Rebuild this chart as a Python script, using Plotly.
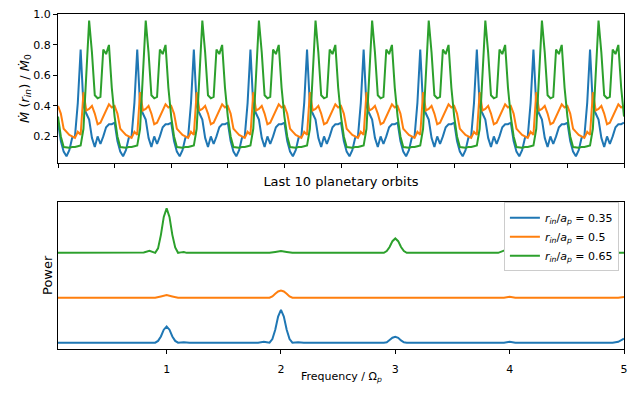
import plotly.graph_objects as go
from plotly.subplots import make_subplots

# ---------------- data ----------------
# one planetary orbit sampled at 20 phases (values read from the picture)
orbit_phase_steps = 20
n_orbits = 10
mdot_035 = [0.29, 0.17, 0.10, 0.07, 0.11, 0.19, 0.20, 0.42, 0.77, 0.40,
            0.35, 0.31, 0.19, 0.13, 0.20, 0.15, 0.20, 0.26, 0.28, 0.28]
mdot_05 = [0.40, 0.35, 0.25, 0.23, 0.21, 0.20, 0.19, 0.23, 0.21, 0.49,
           0.37, 0.38, 0.40, 0.35, 0.28, 0.29, 0.33, 0.38, 0.41, 0.39]
mdot_065 = [0.33, 0.20, 0.13, 0.125, 0.125, 0.13, 0.13, 0.135, 0.14, 0.25,
            0.60, 0.96, 0.75, 0.47, 0.45, 0.46, 0.77, 0.74, 0.80, 0.52]

# power spectra (arbitrary units, each curve relative to its own baseline)
freq_035 = [0.05, 0.9, 0.925, 0.95, 0.975, 1.0, 1.025, 1.05, 1.075, 1.1, 1.15, 1.2,
            1.8, 1.85, 1.875, 1.9, 1.925, 1.95, 1.975, 2.0, 2.025, 2.05, 2.075, 2.1, 2.15, 2.2,
            2.9, 2.925, 2.95, 2.975, 3.0, 3.025, 3.05, 3.075, 3.1,
            3.95, 4.0, 4.05, 4.9, 4.95, 5.0]
power_035 = [0.0, 0.0, 0.04, 0.14, 0.29, 0.36, 0.29, 0.14, 0.04, 0.0, 0.01, 0.0,
             0.0, 0.02, 0.01, 0.0, 0.08, 0.29, 0.58, 0.73, 0.58, 0.29, 0.08, 0.0, 0.01, 0.0,
             0.0, 0.01, 0.06, 0.11, 0.13, 0.11, 0.05, 0.01, 0.0,
             0.0, 0.02, 0.0, 0.0, 0.02, 0.09]

freq_05 = [0.05, 0.9, 0.95, 1.0, 1.05, 1.1,
           1.9, 1.925, 1.95, 1.975, 2.0, 2.025, 2.05, 2.075, 2.1,
           3.95, 4.0, 4.05, 4.95, 5.0]
power_05 = [0.0, 0.0, 0.03, 0.06, 0.03, 0.0,
            0.0, 0.03, 0.09, 0.14, 0.16, 0.14, 0.09, 0.03, 0.0,
            0.0, 0.02, 0.0, 0.0, 0.02]

freq_065 = [0.05, 0.75, 0.8, 0.85, 0.875, 0.9, 0.925, 0.95, 0.975, 1.0, 1.025, 1.05, 1.075, 1.1,
            1.125, 1.15, 1.175, 1.9, 1.95, 2.0, 2.05, 2.1,
            2.9, 2.925, 2.95, 2.975, 3.0, 3.025, 3.05, 3.075, 3.1,
            3.9, 3.95, 4.0, 4.05, 4.1, 5.0]
power_065 = [0.0, 0.0, 0.01, 0.045, 0.02, 0.0, 0.10, 0.40, 0.80, 0.99, 0.80, 0.40, 0.12, 0.0,
             0.01, 0.02, 0.0, 0.0, 0.02, 0.04, 0.02, 0.0,
             0.0, 0.04, 0.13, 0.26, 0.32, 0.26, 0.13, 0.04, 0.0,
             0.0, 0.05, 0.10, 0.05, 0.0, 0.0]

labels = ["<i>r</i><sub><i>in</i></sub>/<i>a</i><sub><i>p</i></sub> = 0.35",
          "<i>r</i><sub><i>in</i></sub>/<i>a</i><sub><i>p</i></sub> = 0.5",
          "<i>r</i><sub><i>in</i></sub>/<i>a</i><sub><i>p</i></sub> = 0.65"]
orbit_ticks = list(range(0, 11))
freq_ticks = [1, 2, 3, 4, 5]
mdot_ticks = [0.2, 0.4, 0.6, 0.8, 1.0]
mdot_ticktext = ["0.2", "0.4", "0.6", "0.8", "1.0"]

colors = ["#1f77b4", "#ff7f0e", "#2ca02c"]

# ---------------- build series ----------------
time = [i / orbit_phase_steps for i in range(n_orbits * orbit_phase_steps + 1)]


def tile(one_orbit):
    return one_orbit * n_orbits + [one_orbit[0]]


fig = make_subplots(rows=2, cols=1)
for vals, c in zip([mdot_035, mdot_05, mdot_065], colors):
    fig.add_trace(go.Scatter(x=time, y=tile(vals), mode="lines",
                             line=dict(color=c, width=2), showlegend=False),
                  row=1, col=1)

for k, (fx, pw, c, lab) in enumerate(zip([freq_035, freq_05, freq_065],
                                         [power_035, power_05, power_065],
                                         colors, labels)):
    fig.add_trace(go.Scatter(x=fx, y=[p + k for p in pw], mode="lines",
                             line=dict(color=c, width=2), name=lab),
                  row=2, col=1)

font = dict(family="DejaVu Sans", size=11, color="black")
axis_common = dict(showline=True, linecolor="black", linewidth=1, mirror=True,
                   tickwidth=1, tickcolor="black", ticklen=4,
                   showgrid=False, zeroline=False, automargin=False)

fig.update_xaxes(row=1, col=1, range=[0, 10], tickvals=orbit_ticks, showticklabels=False,
                 ticks="outside",
                 title=dict(text="Last 10 planetary orbits", standoff=9), **axis_common)
fig.update_yaxes(row=1, col=1, range=[0.025, 1.003], tickvals=mdot_ticks, ticktext=mdot_ticktext,
                 ticks="outside",
                 title=dict(text="<i>Ṁ</i> (<i>r</i><sub><i>in</i></sub>) / <i>Ṁ</i><sub>0</sub>",
                            standoff=0), **axis_common)
fig.update_xaxes(row=2, col=1, range=[0.05, 5], tickvals=freq_ticks, ticks="outside",
                 ticklabelstandoff=6, **axis_common)
fig.update_yaxes(row=2, col=1, range=[-0.14, 3.14], showticklabels=False, ticks="",
                 title=dict(text="Power", standoff=1), **axis_common)

# bottom x-axis title placed as an annotation for tight spacing under the tick labels
fig.add_annotation(text="Frequency / Ω<sub><i>p</i></sub>", xref="x2 domain", x=0.5,
                   yref="paper", y=-0.083, yanchor="middle", showarrow=False,
                   font=dict(family="DejaVu Sans", size=11, color="black"))

# the page body has an 8 px default margin, so the figure is 632x392 and
# its margins are reduced by 8 px on the left and top
fig.update_layout(
    width=632, height=392,
    margin=dict(l=50, r=16, t=6, b=51),
    paper_bgcolor="white", plot_bgcolor="white",
    font=font,
    xaxis=dict(domain=[0, 1]), yaxis=dict(domain=[0.555, 1.0]),
    xaxis2=dict(domain=[0, 1]), yaxis2=dict(domain=[0, 0.44]),
    legend=dict(x=0.991, y=0.335, xanchor="right", yanchor="middle",
                bgcolor="white", bordercolor="#cccccc", borderwidth=1,
                font=dict(family="DejaVu Sans", size=11, color="black"),
                itemwidth=30, tracegroupgap=0),
)

fig.write_html("out.html")
